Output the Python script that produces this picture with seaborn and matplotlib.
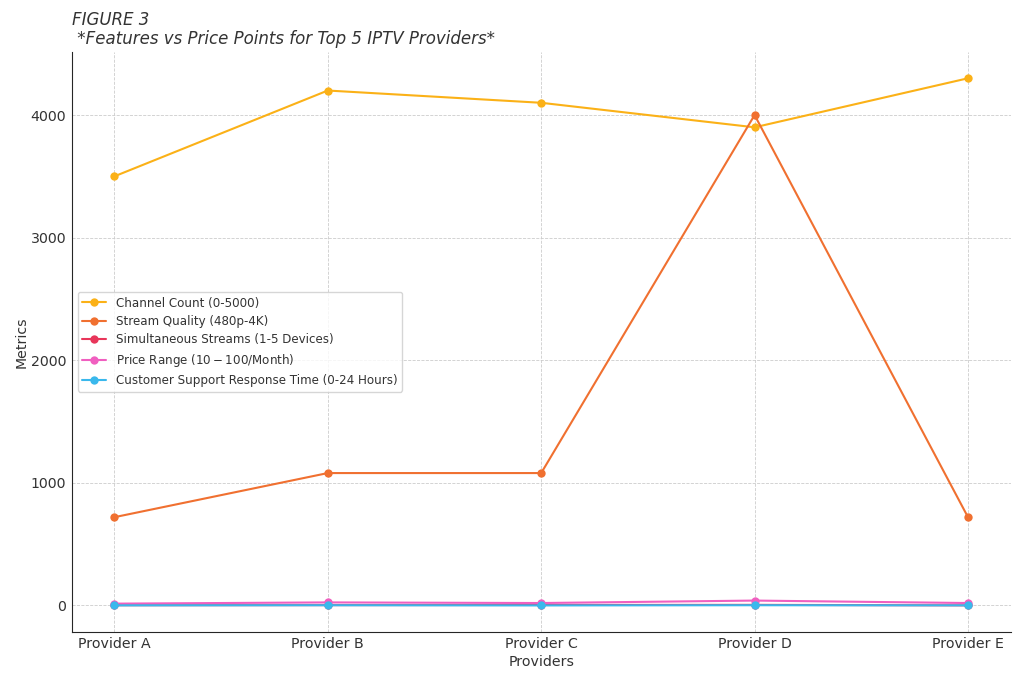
import matplotlib
matplotlib.use("Agg")
import matplotlib.pyplot as plt
import seaborn as sns
import pandas as pd

providers = ["Provider A", "Provider B", "Provider C", "Provider D", "Provider E"]
channel_count = [3500, 4200, 4100, 3900, 4300]
stream_quality = [720, 1080, 1080, 4000, 720]
simultaneous_streams = [2, 3, 4, 5, 1]
price_range = [15, 25, 20, 40, 20]
support_time = [1, 2, 0.5, 2, 1]

series_names = [
    "Channel Count (0-5000)",
    "Stream Quality (480p-4K)",
    "Simultaneous Streams (1-5 Devices)",
    "Price Range ($10-$100/Month)",
    "Customer Support Response Time (0-24 Hours)",
]
series_values = [channel_count, stream_quality, simultaneous_streams, price_range, support_time]
colors = ["#fbb117", "#f07030", "#e8365a", "#f05fc0", "#3ab8ec"]

rows = []
for name, vals in zip(series_names, series_values):
    for p, v in zip(providers, vals):
        rows.append({"Providers": p, "Metrics": v, "Series": name})
df = pd.DataFrame(rows)

sns.set_style("ticks")
plt.rcParams['font.family'] = ['DejaVu Sans']

fig, ax = plt.subplots(figsize=(10.24, 6.83), dpi=100)
sns.lineplot(data=df, x="Providers", y="Metrics", hue="Series",
             palette=dict(zip(series_names, colors)), marker="o",
             markersize=6, markeredgewidth=0, linewidth=1.5, ax=ax, sort=False)

ax.grid(True, linestyle="--", linewidth=0.6, color="#cccccc")
ax.set_axisbelow(True)
sns.despine(ax=ax)
ax.tick_params(labelsize=10.2, length=0, pad=4, colors="#333333")
ax.set_xlabel("Providers", fontsize=10.2, labelpad=3, color="#333333")
ax.set_ylabel("Metrics", fontsize=10.2, labelpad=1, color="#333333")
ax.set_yticks([0, 1000, 2000, 3000, 4000])
ax.margins(x=0.05, y=0.05)

leg = ax.legend(loc="center left", fontsize=8.6, frameon=True, title=None,
                bbox_to_anchor=(0.0, 0.50), labelspacing=0.45)
leg.get_frame().set_edgecolor("#cccccc")
for t in leg.get_texts():
    t.set_color("#333333")

fig.text(0.07, 0.963, "FIGURE 3", fontsize=12, style="italic", color="#333333")
fig.text(0.07, 0.935, " *Features vs Price Points for Top 5 IPTV Providers*",
         fontsize=12, style="italic", color="#333333")

fig.subplots_adjust(left=0.07, right=0.987, top=0.924, bottom=0.075)
fig.savefig("out.png", dpi=100)
